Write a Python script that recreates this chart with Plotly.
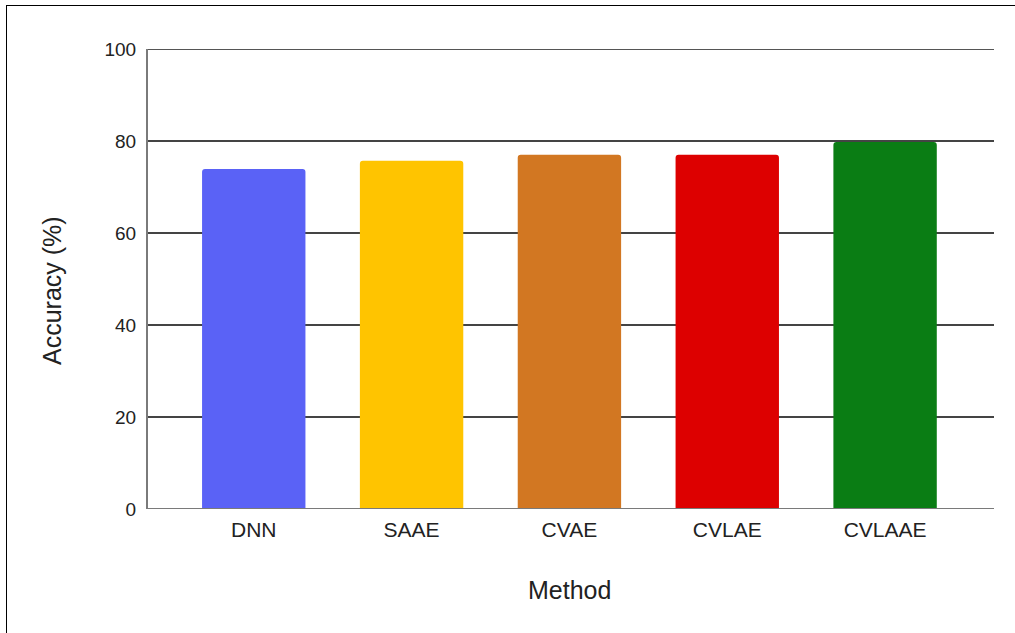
import plotly.graph_objects as go

methods = ["DNN", "SAAE", "CVAE", "CVLAE", "CVLAAE"]
accuracy = [73.9, 75.7, 77.0, 77.0, 79.8]
bar_colors = ["#5A62F6", "#FFC400", "#D27722", "#DD0000", "#0A7D14"]
y_ticks = [0, 20, 40, 60, 80, 100]

fig = go.Figure(
    go.Bar(
        x=list(range(len(methods))),
        y=accuracy,
        marker=dict(color=bar_colors, line=dict(width=0)),
        width=0.655,
        hoverinfo="x+y",
    )
)

font_family = "Liberation Sans, Arial, sans-serif"

fig.update_layout(
    width=1015,
    height=633,
    margin=dict(l=148, r=21, t=49, b=124),
    paper_bgcolor="white",
    plot_bgcolor="white",
    showlegend=False,
    barcornerradius=3,
    font=dict(family=font_family, color="#222222"),
    xaxis=dict(
        range=[-0.67, 4.69],
        tickmode="array",
        tickvals=list(range(len(methods))),
        ticktext=methods,
        tickfont=dict(size=21, color="#222222"),
        showgrid=False,
        zeroline=False,
        showline=False,
        ticks="",
        ticklabelstandoff=6,
        fixedrange=True,
    ),
    yaxis=dict(
        range=[0, 100],
        tickmode="array",
        tickvals=y_ticks,
        tickfont=dict(size=19, color="#222222"),
        showgrid=True,
        gridcolor="#444444",
        gridwidth=1.5,
        zeroline=False,
        showline=True,
        linecolor="#7a7a7a",
        linewidth=2,
        ticks="",
        ticklabelstandoff=6,
        fixedrange=True,
    ),
    annotations=[
        dict(
            text="Method",
            xref="paper", yref="paper",
            x=0.4988, y=-0.176,
            showarrow=False,
            font=dict(size=25, color="#222222"),
            xanchor="center", yanchor="middle",
        ),
        dict(
            text="Accuracy (%)",
            xref="paper", yref="paper",
            x=-0.1135, y=0.476,
            showarrow=False,
            textangle=-90,
            font=dict(size=25, color="#222222"),
            xanchor="center", yanchor="middle",
        ),
    ],
    shapes=[
        # top gridline at 100
        dict(type="line", xref="paper", yref="y", x0=0, x1=1, y0=100, y1=100,
             line=dict(color="#555555", width=2), layer="above"),
        # baseline at zero
        dict(type="line", xref="paper", yref="y", x0=0, x1=1, y0=0, y1=0,
             line=dict(color="#7a7a7a", width=2), layer="above"),
    ],
)

# outer frame along the top and left edges of the page
frame_css = (
    "var gd=document.querySelector('.plotly-graph-div');"
    "var f=document.createElement('div');"
    "f.style.cssText='position:absolute;left:6px;top:5px;width:2000px;height:2000px;"
    "border-left:1.5px solid black;border-top:1.5px solid black;pointer-events:none;z-index:10';"
    "document.body.style.margin='0';document.body.style.overflow='hidden';"
    "document.body.style.position='relative';document.body.appendChild(f);"
)

fig.write_html(
    "out.html",
    config={"displayModeBar": False},
    post_script=frame_css,
)
